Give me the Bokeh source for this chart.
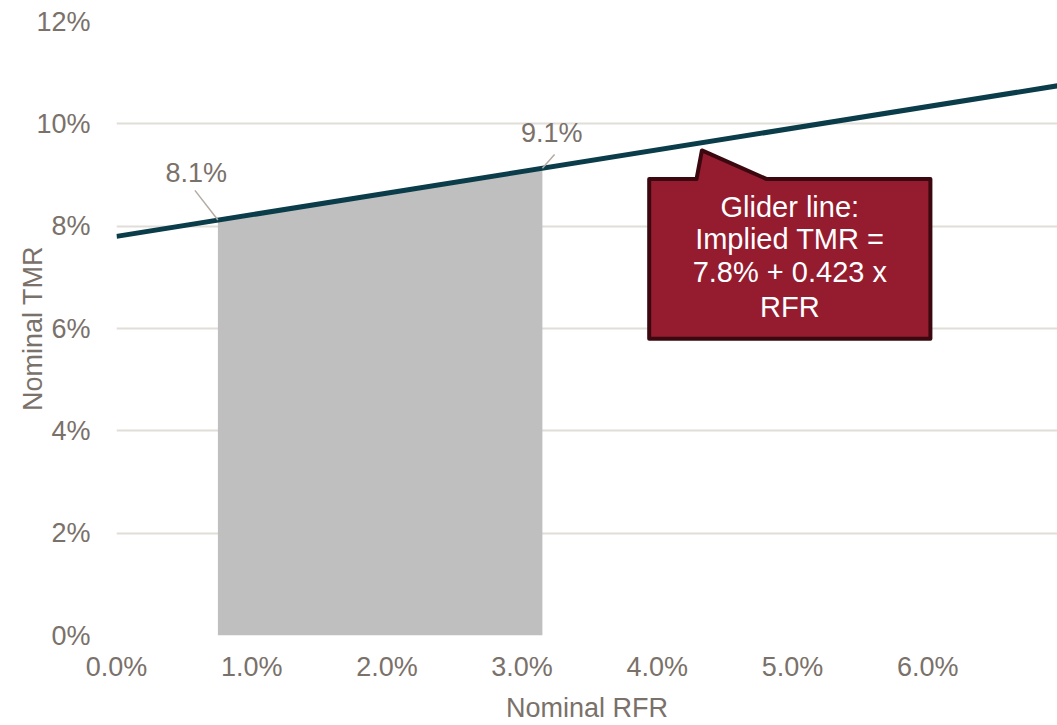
from bokeh.plotting import figure
from bokeh.models import Range1d, FixedTicker
from bokeh.embed import file_html
from bokeh.resources import INLINE
from bokeh.core.properties import value

# ---- data ----
x_ticks = [0, 1, 2, 3, 4, 5, 6]
x_tick_labels = ["0.0%", "1.0%", "2.0%", "3.0%", "4.0%", "5.0%", "6.0%"]
y_ticks = [0, 2, 4, 6, 8, 10, 12]
y_tick_labels = ["0%", "2%", "4%", "6%", "8%", "10%", "12%"]

glider_rfr = [0.0, 7.0]          # nominal RFR (%)
glider_tmr = [7.8, 10.76]        # implied TMR (%)

band_rfr = [0.75, 3.15]          # shaded RFR range (%)
band_tmr = [8.12, 9.13]          # TMR at band edges (%)
band_labels = ["8.1%", "9.1%"]

callout_lines = ["Glider line:", "Implied TMR =", "7.8% + 0.423 x", "RFR"]

# ---- styling ----
FONT = "Liberation Sans"
GREY_TXT = "#7a716a"
GRID = "#e1ddd8"
LINE_C = "#0a3c4a"
AREA_C = "#bfbfbf"
BOX_FILL = "#951b2f"
BOX_EDGE = "#3b0810"

p = figure(width=1057, height=725, x_range=Range1d(0, 6.96), y_range=Range1d(0, 12),
           output_backend="svg", toolbar_location=None,
           min_border_left=116, min_border_right=0, min_border_top=21, min_border_bottom=90)
p.outline_line_color = None
p.background_fill_color = "white"
p.border_fill_color = "white"

# grid
p.xgrid.grid_line_color = None
p.ygrid.grid_line_color = GRID
p.ygrid.grid_line_width = 2
p.ygrid.ticker = FixedTicker(ticks=y_ticks)

# axes
for ax in (p.xaxis[0], p.yaxis[0]):
    ax.axis_line_color = None
    ax.major_tick_line_color = None
    ax.minor_tick_line_color = None
    ax.major_tick_out = 0
    ax.major_tick_in = 0
    ax.major_label_text_font = FONT
    ax.major_label_text_font_size = "27px"
    ax.major_label_text_color = GREY_TXT
    ax.axis_label_text_font = FONT
    ax.axis_label_text_font_size = "27px"
    ax.axis_label_text_color = GREY_TXT
    ax.axis_label_text_font_style = "normal"

p.xaxis.ticker = FixedTicker(ticks=x_ticks)
p.xaxis.major_label_overrides = {t: l for t, l in zip(x_ticks, x_tick_labels)}
p.xaxis.major_label_standoff = 16
p.xaxis.axis_label = "Nominal RFR"
p.xaxis.axis_label_standoff = 8

p.yaxis.ticker = FixedTicker(ticks=y_ticks)
p.yaxis.major_label_overrides = {t: l for t, l in zip(y_ticks, y_tick_labels)}
p.yaxis.major_label_standoff = 26
p.yaxis.axis_label = "Nominal TMR"
p.yaxis.axis_label_standoff = -15

# shaded band under the line
p.varea(x=band_rfr, y1=[0, 0], y2=band_tmr, fill_color=AREA_C)

# glider line
p.line(glider_rfr, glider_tmr, line_color=LINE_C, line_width=5)

# data labels with leader lines
lab_x = [band_rfr[0] - 0.16, band_rfr[1] + 0.07]
lab_y = [band_tmr[0] + 0.92, band_tmr[1] + 0.70]
lead_x0 = [band_rfr[0] - 0.17, band_rfr[1] + 0.09]
lead_y0 = [band_tmr[0] + 0.58, band_tmr[1] + 0.27]
p.segment(x0=lead_x0, y0=lead_y0, x1=band_rfr, y1=band_tmr, line_color="#b3aba4", line_width=1.5)
p.text(x=lab_x, y=lab_y, text=band_labels, text_font=value(FONT), text_font_size="27px",
       text_color=GREY_TXT, text_align="center", text_baseline="middle")

# callout box with pointer
bx0, bx1, by0, by1 = 3.94, 6.02, 5.80, 8.92
tip_x, tip_y = 4.33, 9.48
base_l, base_r = 4.29, 4.81
cx = [bx0, base_l, tip_x, base_r, bx1, bx1, bx0]
cy = [by1, by1, tip_y, by1, by1, by0, by0]
p.patch(cx, cy, fill_color=BOX_FILL, line_color=BOX_EDGE, line_width=4, line_join="round")

text_x = (bx0 + bx1) / 2
text_y = [8.37, 7.74, 7.11, 6.42]
p.text(x=[text_x] * 4, y=text_y, text=callout_lines, text_font=value(FONT),
       text_font_size="29px", text_color="white", text_align="center", text_baseline="middle")

open("out.html", "w").write(file_html(p, INLINE))
